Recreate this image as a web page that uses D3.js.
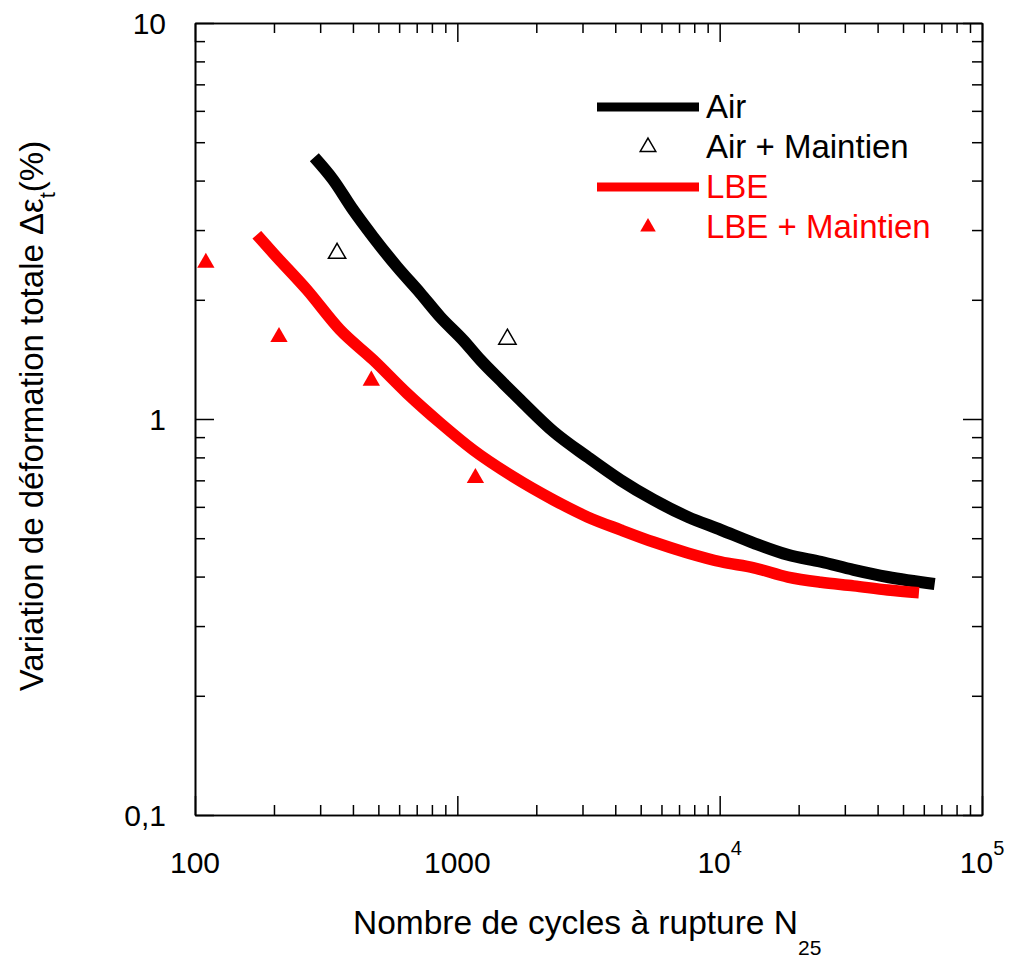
<!DOCTYPE html>
<html><head><meta charset="utf-8">
<script src="https://cdn.jsdelivr.net/npm/d3@7"></script>
<style>
body{margin:0;background:#fff}
text{font-family:"Liberation Sans",Arial,Helvetica,sans-serif}
</style>
</head><body>
<svg id="chart" width="1009" height="962"></svg>
<script>
// ---- data ----
const airN      = [285, 336, 401, 478, 590, 722, 861, 1054, 1224, 1500, 1738, 2323, 3133, 4188, 5600, 7550, 10100, 13500, 18200, 24300, 32400, 43700, 66000];
const airStrain = [4.58, 4.02, 3.37, 2.88, 2.42, 2.08, 1.81, 1.58, 1.41, 1.23, 1.117, 0.93, 0.802, 0.701, 0.625, 0.566, 0.525, 0.486, 0.454, 0.436, 0.416, 0.399, 0.383];

const lbeN      = [172, 199, 267, 357, 478, 644, 861, 1150, 1636, 2323, 3133, 4188, 5600, 7550, 10100, 13500, 18200, 24300, 32400, 43700, 57500];
const lbeStrain = [2.92, 2.62, 2.12, 1.68, 1.41, 1.16, 0.977, 0.835, 0.714, 0.625, 0.566, 0.525, 0.489, 0.459, 0.436, 0.421, 0.399, 0.387, 0.379, 0.370, 0.364];

const airHoldN      = [348, 1552];
const airHoldStrain = [2.62, 1.59];

const lbeHoldN      = [110, 209, 470, 1172];
const lbeHoldStrain = [2.48, 1.61, 1.25, 0.71];

const xMajorTicks   = [100, 1000, 10000, 100000];
const xTickBase     = ["100", "1000", "10", "10"];
const xTickExp      = ["", "", "4", "5"];
const yMajorTicks   = [0.1, 1, 10];
const yTickLabels   = ["0,1", "1", "10"];

const legendLabels  = ["Air", "Air + Maintien", "LBE", "LBE + Maintien"];
const legendColors  = ["#000000", "#000000", "#ff0000", "#ff0000"];
const legendKinds   = ["line", "open", "line", "filled"];

// ---- layout ----
const L = 195, R = 982, T = 23, B = 815;
const svg = d3.select("#chart");
const x = d3.scaleLog().domain([100, 100000]).range([L, R]);
const y = d3.scaleLog().domain([0.1, 10]).range([B, T]);

const isMajor = v => Math.abs(Math.log10(v) - Math.round(Math.log10(v))) < 1e-9;
const xMinor = x.ticks().filter(v => !isMajor(v));
const yMinor = y.ticks().filter(v => !isMajor(v));

function styleAxis(g) {
  g.selectAll("path.domain").attr("stroke", "#000").attr("stroke-width", 1.6);
  g.selectAll(".tick line").attr("stroke", "#000").attr("stroke-width", 1.5);
  g.selectAll(".tick text").remove();
}
function addAxis(gen, tx, ty, vals, size) {
  svg.append("g").attr("transform", `translate(${tx},${ty})`)
    .call(gen.tickValues(vals).tickSize(-size).tickSizeOuter(0).tickFormat(""))
    .call(styleAxis);
}
[[d3.axisBottom(x), 0, B], [d3.axisTop(x), 0, T]].forEach(([g, tx, ty]) => addAxis(g, tx, ty, xMinor, 10));
[[d3.axisBottom(x), 0, B], [d3.axisTop(x), 0, T]].forEach(([g, tx, ty]) => addAxis(g, tx, ty, xMajorTicks, 19));
[[d3.axisLeft(y), L, 0], [d3.axisRight(y), R, 0]].forEach(([g, tx, ty]) => addAxis(g, tx, ty, yMinor, 10));
[[d3.axisLeft(y), L, 0], [d3.axisRight(y), R, 0]].forEach(([g, tx, ty]) => addAxis(g, tx, ty, yMajorTicks, 19));

// tick labels
const xl = svg.append("g").selectAll("text").data(xMajorTicks).join("text")
  .attr("x", d => x(d)).attr("y", 873)
  .attr("text-anchor", "middle").attr("font-size", 30).attr("fill", "#000");
xl.append("tspan").text((d, i) => xTickBase[i]);
xl.append("tspan").attr("font-size", 20).attr("dy", -18).text((d, i) => xTickExp[i]);

svg.append("g").selectAll("text").data(yMajorTicks).join("text")
  .attr("x", 166).attr("y", d => y(d) + 11)
  .attr("text-anchor", "end").attr("font-size", 30).attr("fill", "#000")
  .text((d, i) => yTickLabels[i]);

// axis titles
const xt = svg.append("text").attr("x", 353).attr("y", 934)
  .attr("font-size", 33.5).attr("fill", "#000");
xt.append("tspan").text("Nombre de cycles à rupture N");
xt.append("tspan").attr("font-size", 21).attr("dy", 21).text("25");

const yt = svg.append("text")
  .attr("transform", "translate(43,416) rotate(-90)")
  .attr("text-anchor", "middle").attr("font-size", 33).attr("fill", "#000");
yt.append("tspan").text("Variation de déformation totale Δε");
yt.append("tspan").attr("font-size", 22).attr("dy", 12).text("t");
yt.append("tspan").attr("dy", -12).text("(%)");

// curves
const line = d3.line().curve(d3.curveMonotoneX).x(d => x(d[0])).y(d => y(d[1]));
svg.append("path").datum(airN.map((n, i) => [n, airStrain[i]]))
  .attr("d", line).attr("fill", "none").attr("stroke", "#000")
  .attr("stroke-width", 12).attr("stroke-linejoin", "round");
svg.append("path").datum(lbeN.map((n, i) => [n, lbeStrain[i]]))
  .attr("d", line).attr("fill", "none").attr("stroke", "#ff0000")
  .attr("stroke-width", 11.5).attr("stroke-linejoin", "round");

// markers
const tri = d3.symbol().type(d3.symbolTriangle).size(130);
svg.append("g").selectAll("path").data(airHoldN).join("path")
  .attr("transform", (d, i) => `translate(${x(d)},${y(airHoldStrain[i])})`)
  .attr("d", tri).attr("fill", "#fff").attr("stroke", "#000").attr("stroke-width", 1.5);
svg.append("g").selectAll("path").data(lbeHoldN).join("path")
  .attr("transform", (d, i) => `translate(${x(d)},${y(lbeHoldStrain[i])})`)
  .attr("d", tri).attr("fill", "#ff0000");

// legend
const legY = [107, 147, 187, 227];
const lg = svg.append("g");
legendLabels.forEach((lab, i) => {
  const c = legendColors[i];
  if (legendKinds[i] === "line") {
    lg.append("line").attr("x1", 597).attr("x2", 699).attr("y1", legY[i]).attr("y2", legY[i])
      .attr("stroke", c).attr("stroke-width", 9);
  } else {
    lg.append("path").attr("transform", `translate(648,${legY[i]})`)
      .attr("d", d3.symbol().type(d3.symbolTriangle).size(105))
      .attr("fill", legendKinds[i] === "open" ? "#fff" : c)
      .attr("stroke", legendKinds[i] === "open" ? c : "none").attr("stroke-width", 1.5);
  }
  lg.append("text").attr("x", 706).attr("y", legY[i] + 11)
    .attr("font-size", 33).attr("fill", c).text(lab);
});
</script>
</body></html>
